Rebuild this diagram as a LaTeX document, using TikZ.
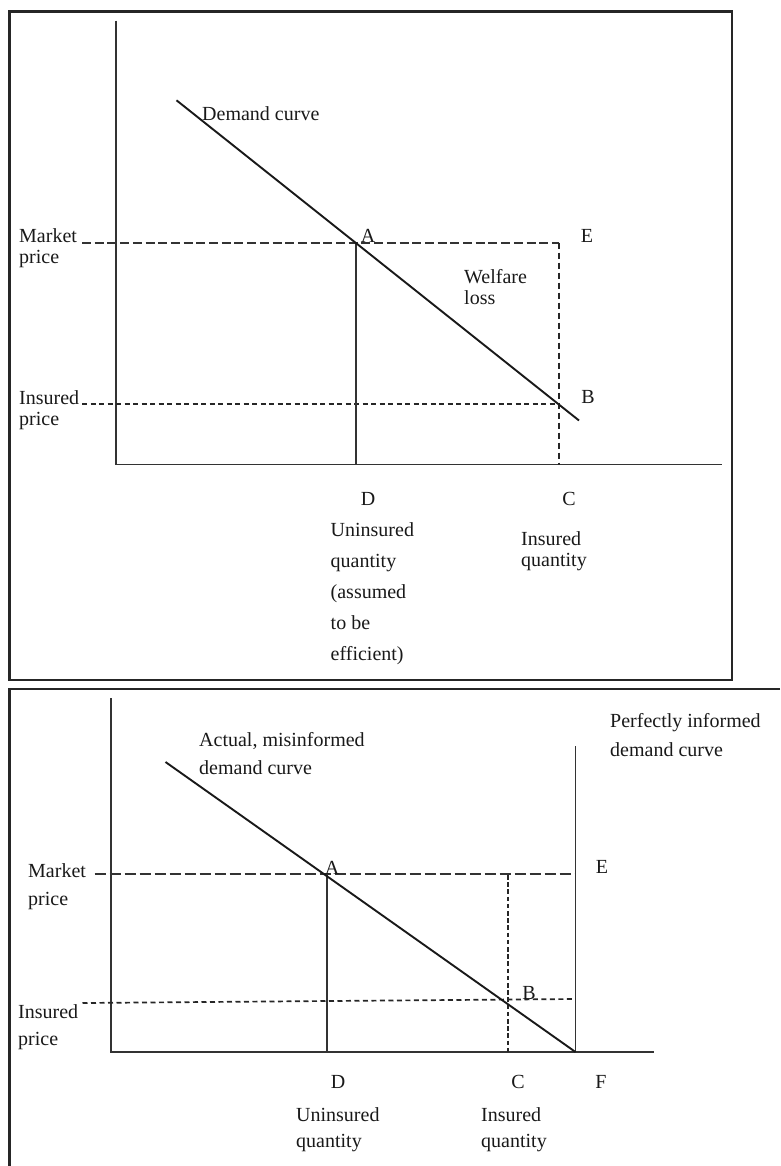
\documentclass[tikz,border=0pt]{standalone}
\usepackage{fontspec}
\setmainfont{Liberation Serif}
\begin{document}
\begin{tikzpicture}[x=1pt,y=-1pt,
  frame/.style={line width=2.6pt, black!85},
  axis/.style={line width=1.6pt, black!80},
  curve/.style={line width=1.9pt, black!90},
  longdash/.style={line width=1.7pt, black!80, dash pattern=on 9pt off 3.7pt},
  longdashb/.style={line width=1.7pt, black!80, dash pattern=on 11pt off 4pt},
  shortdash/.style={line width=1.7pt, black!85, dash pattern=on 5pt off 3.5pt},
  vdash/.style={line width=1.4pt, black!85, dash pattern=on 6.5pt off 3.5pt},
  vdashb/.style={line width=1.5pt, black!85, dash pattern=on 4.5pt off 2.7pt},
  lbl/.style={font=\fontsize{20}{20}\selectfont, inner sep=0pt, anchor=base west, text=black!90},
  letter/.style={font=\fontsize{20}{20}\selectfont, inner sep=0pt, anchor=base, text=black!90}]
\useasboundingbox (0,0) rectangle (780,1166);

% ---------- top panel ----------
\draw[frame] (9.3,11.7) rectangle (732,680);
\coordinate (yTop1) at (116,20.7);
\coordinate (O1) at (116,464.5);
\coordinate (xEnd1) at (722,464.5);
\coordinate (d1s) at (176.5,100.3);
\coordinate (A1) at (356,242.7);
\coordinate (E1) at (559,242.7);
\coordinate (B1) at (559,404);
\coordinate (d1e) at (579,420.5);
\coordinate (D1) at (356,464.5);
\coordinate (C1) at (559,464.5);
\coordinate (mp1) at (82,242.7);
\coordinate (ip1) at (82,404);

\draw[axis] (yTop1) -- (O1) -- (xEnd1);
\draw[longdash] (mp1) -- (A1) -- (E1);
\draw[shortdash] (ip1) -- (B1);
\draw[vdash] (E1) -- (C1);
\draw[axis] (A1) -- (D1);
\draw[curve] (d1s) -- (d1e);

\node[lbl] (t1) at (202,121) {Demand curve};
\node[lbl] (mk1) at (19,243) {Market};
\node[lbl] (mk1b) at (19,263) {price};
\node[letter] (lA1) at (368,243) {A};
\node[letter] (lE1) at (587,243) {E};
\node[lbl] (wl1) at (464,283) {Welfare};
\node[lbl] (wl1b) at (464,304) {loss};
\node[lbl] (ins1) at (19,404) {Insured};
\node[lbl] (ins1b) at (19,425) {price};
\node[letter] (lB1) at (588,403) {B};
\node[letter] (lD1) at (368,505) {D};
\node[letter] (lC1) at (569,505) {C};
\node[lbl] (u1) at (330.5,536) {Uninsured};
\node[lbl] (u2) at (330.5,567) {quantity};
\node[lbl] (u3) at (330.5,598) {(assumed};
\node[lbl] (u4) at (330.5,629) {to be};
\node[lbl] (u5) at (330.5,660) {efficient)};
\node[lbl] (iq1) at (521,545) {Insured};
\node[lbl] (iq2) at (521,566) {quantity};

% ---------- bottom panel ----------
\draw[frame] (780,689) -- (9.3,689) -- (9.3,1166);
\coordinate (yTop2) at (111,698);
\coordinate (O2) at (111,1052);
\coordinate (xEnd2) at (653.5,1052);
\coordinate (pTop) at (575.5,746);
\coordinate (F2) at (575.5,1052);
\coordinate (d2s) at (165.5,762);
\coordinate (A2) at (327,874);
\coordinate (E2) at (575.5,874);
\coordinate (C2top) at (508,875);
\coordinate (C2) at (508,1052);
\coordinate (D2) at (327,1052);
\coordinate (mp2) at (94.5,874);
\coordinate (ip2s) at (82.5,1003);
\coordinate (ip2e) at (575.5,999);

\draw[axis] (yTop2) -- (O2) -- (xEnd2);
\draw[axis] (pTop) -- (F2);
\draw[longdashb] (mp2) -- (A2) -- (E2);
\draw[shortdash] (ip2s) -- (ip2e);
\draw[vdashb] (C2top) -- (C2);
\draw[axis] (A2) -- (D2);
\draw[curve] (d2s) -- (F2);

\node[lbl] (am1) at (199,746) {Actual, misinformed};
\node[lbl] (am2) at (199,774) {demand curve};
\node[lbl] (pi1) at (610,727) {Perfectly informed};
\node[lbl] (pi2) at (610,756) {demand curve};
\node[lbl] (mk2) at (28,877) {Market};
\node[lbl] (mk2b) at (28,905) {price};
\node[letter] (lA2) at (332,874) {A};
\node[letter] (lE2) at (602,873) {E};
\node[letter] (lB2) at (529,999) {B};
\node[lbl] (ins2) at (18,1018) {Insured};
\node[lbl] (ins2b) at (18,1045) {price};
\node[letter] (lD2) at (338,1088) {D};
\node[letter] (lC2) at (518,1088) {C};
\node[letter] (lF2) at (601,1088) {F};
\node[lbl] (uq1) at (296,1121) {Uninsured};
\node[lbl] (uq2) at (296,1147) {quantity};
\node[lbl] (iq3) at (481,1121) {Insured};
\node[lbl] (iq4) at (481,1147) {quantity};
\end{tikzpicture}
\end{document}
